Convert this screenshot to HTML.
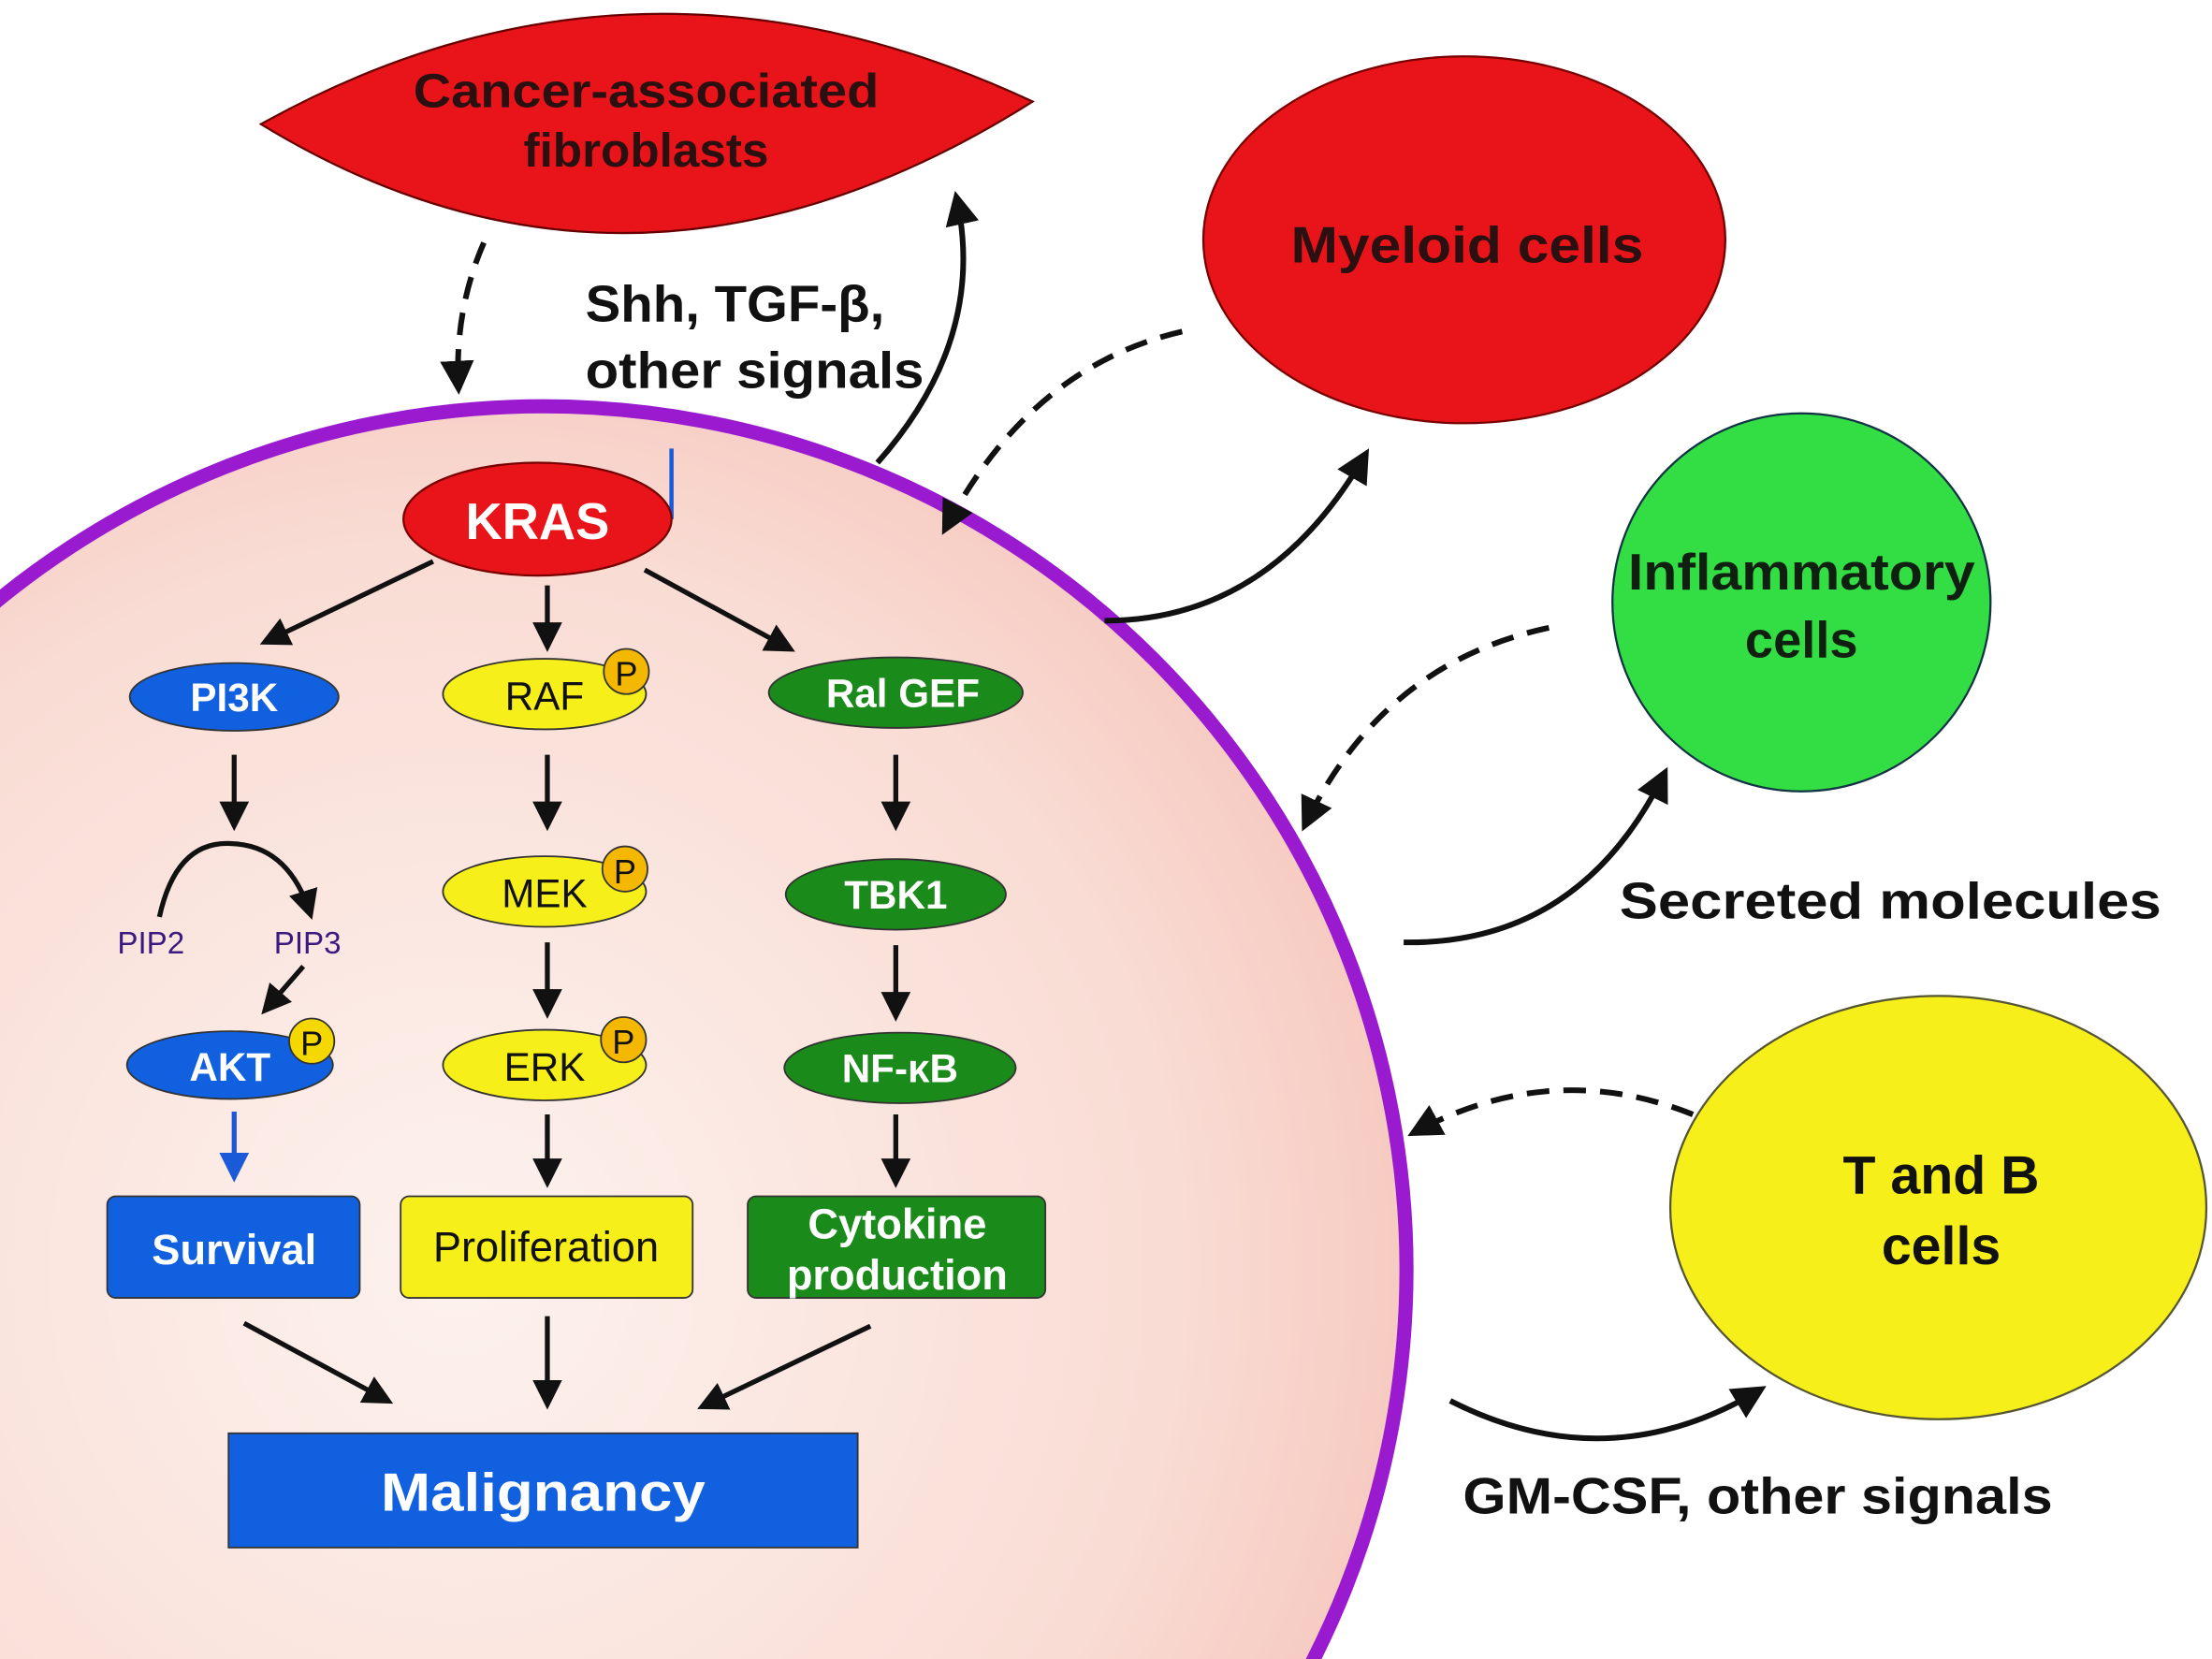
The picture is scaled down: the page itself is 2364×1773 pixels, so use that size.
<!DOCTYPE html>
<html><head><meta charset="utf-8"><style>html,body{margin:0;padding:0;background:#fff;width:2364px;height:1773px;overflow:hidden}svg{display:block}</style></head>
<body>
<svg width="2364" height="1773" viewBox="0 0 1568 1176" xmlns="http://www.w3.org/2000/svg" font-family="Liberation Sans, DejaVu Sans, sans-serif" font-weight="bold">
<defs>
<radialGradient id="cg" cx="0.45" cy="0.5" r="0.6">
<stop offset="0" stop-color="#fdf2ee"/><stop offset="0.7" stop-color="#f9dcd4"/><stop offset="1" stop-color="#f5c4ba"/>
</radialGradient>
<marker id="ah" viewBox="0 0 10 10" refX="8" refY="5" markerWidth="6" markerHeight="6" orient="auto"><path d="M0,0 L10,5 L0,10 z" fill="#111"/></marker>
<marker id="ahb" viewBox="0 0 10 10" refX="8" refY="5" markerWidth="6" markerHeight="6" orient="auto"><path d="M0,0 L10,5 L0,10 z" fill="#1a5ad8"/></marker>
</defs>
<rect width="1568" height="1176" fill="#fff"/>
<ellipse cx="385" cy="900" rx="612" ry="612" fill="url(#cg)" stroke="#9a1ad0" stroke-width="10"/>
<path d="M185,88 Q450,-60 732,72 Q450,250 185,88 z" fill="#e8141a" stroke="#600" stroke-width="1.5"/>
<g font-size="34" fill="#2a1010" text-anchor="middle">
<text x="458" y="76" textLength="330" lengthAdjust="spacingAndGlyphs">Cancer-associated</text><text x="458" y="118">fibroblasts</text>
</g>
<ellipse cx="1038" cy="170" rx="185" ry="130" fill="#e8141a" stroke="#700" stroke-width="1.5"/>
<text x="1040" y="186" font-size="36" fill="#2a1010" text-anchor="middle" textLength="250" lengthAdjust="spacingAndGlyphs">Myeloid cells</text>
<circle cx="1277" cy="427" r="134" fill="#33dd44" stroke="#134" stroke-width="1.5"/>
<g font-size="36" fill="#102010" text-anchor="middle"><text x="1277" y="418" textLength="246" lengthAdjust="spacingAndGlyphs">Inflammatory</text><text x="1277" y="466">cells</text></g>
<ellipse cx="1374" cy="856" rx="190" ry="150" fill="#f6ef1a" stroke="#553" stroke-width="1.5"/>
<g font-size="38" fill="#111" text-anchor="middle"><text x="1376" y="846">T and B</text><text x="1376" y="896">cells</text></g>
<g font-size="36" fill="#111">
<text x="415" y="228" textLength="212" lengthAdjust="spacingAndGlyphs">Shh, TGF-β,</text><text x="415" y="275" textLength="240" lengthAdjust="spacingAndGlyphs">other signals</text>
<text x="1148" y="651" textLength="384" lengthAdjust="spacingAndGlyphs">Secreted molecules</text>
<text x="1037" y="1073" textLength="418" lengthAdjust="spacingAndGlyphs">GM-CSF, other signals</text>
</g>
<g fill="none" stroke="#111" stroke-width="4">
<path d="M343,172 Q322,220 325,275" stroke-dasharray="16,10" marker-end="url(#ah)"/>
<path d="M622,328 Q700,240 678,140" marker-end="url(#ah)"/>
<path d="M838,235 Q730,260 670,375" stroke-dasharray="16,10" marker-end="url(#ah)"/>
<path d="M783,440 Q900,440 968,322" marker-end="url(#ah)"/>
<path d="M1098,445 Q980,470 925,585" stroke-dasharray="16,10" marker-end="url(#ah)"/>
<path d="M995,668 Q1120,670 1180,548" marker-end="url(#ah)"/>
<path d="M1200,790 Q1100,750 1002,803" stroke-dasharray="16,10" marker-end="url(#ah)"/>
<path d="M1028,993 Q1140,1050 1248,985" marker-end="url(#ah)"/>
</g>
<line x1="476" y1="318" x2="476" y2="368" stroke="#1a5ad8" stroke-width="3"/>
<g fill="none" stroke="#111" stroke-width="3.5" marker-end="url(#ah)">
<line x1="307" y1="398" x2="188" y2="455"/>
<line x1="388" y1="415" x2="388" y2="458"/>
<line x1="457" y1="404" x2="560" y2="460"/>
<line x1="166" y1="535" x2="166" y2="585"/>
<line x1="388" y1="535" x2="388" y2="585"/>
<line x1="635" y1="535" x2="635" y2="585"/>
<line x1="388" y1="668" x2="388" y2="718"/>
<line x1="635" y1="670" x2="635" y2="720"/>
<path d="M113,650 Q125,595 165,598 Q205,600 220,648"/>
<line x1="215" y1="685" x2="188" y2="716"/>
<line x1="388" y1="790" x2="388" y2="838"/>
<line x1="635" y1="790" x2="635" y2="838"/>
<line x1="173" y1="938" x2="275" y2="993"/>
<line x1="388" y1="933" x2="388" y2="995"/>
<line x1="617" y1="940" x2="498" y2="997"/>
</g>
<line x1="166" y1="788" x2="166" y2="834" stroke="#1a5ad8" stroke-width="3.5" marker-end="url(#ahb)"/>
<ellipse cx="381" cy="368" rx="95" ry="40" fill="#e8141a" stroke="#700" stroke-width="1.5"/>
<text x="381" y="382" font-size="36" fill="#fff" text-anchor="middle">KRAS</text>
<g stroke="#333" stroke-width="1.2">
<ellipse cx="166" cy="494" rx="74" ry="24" fill="#1060e0"/>
<ellipse cx="386" cy="492" rx="72" ry="25" fill="#f6ef1a"/>
<ellipse cx="635" cy="491" rx="90" ry="25" fill="#1a8a1a"/>
<ellipse cx="386" cy="632" rx="72" ry="25" fill="#f6ef1a"/>
<ellipse cx="635" cy="634" rx="78" ry="25" fill="#1a8a1a"/>
<ellipse cx="163" cy="755" rx="73" ry="24" fill="#1060e0"/>
<ellipse cx="386" cy="755" rx="72" ry="25" fill="#f6ef1a"/>
<ellipse cx="638" cy="757" rx="82" ry="25" fill="#1a8a1a"/>
<circle cx="444" cy="476" r="16" fill="#f5b800"/>
<circle cx="443" cy="616" r="16" fill="#f5b800"/>
<circle cx="221" cy="738" r="16" fill="#f5d800"/>
<circle cx="442" cy="737" r="16" fill="#f5b800"/>
<rect x="76" y="848" width="179" height="72" rx="6" fill="#1060e0"/>
<rect x="284" y="848" width="207" height="72" rx="6" fill="#f6ef1a"/>
<rect x="530" y="848" width="211" height="72" rx="6" fill="#1a8a1a"/>
<rect x="162" y="1016" width="446" height="81" fill="#1060e0"/>
</g>
<g font-size="28" text-anchor="middle" font-weight="normal">
<text x="166" y="504" fill="#fff" font-weight="bold">PI3K</text>
<text x="386" y="503" fill="#111">RAF</text>
<text x="640" y="501" fill="#fff" font-weight="bold">Ral GEF</text>
<text x="386" y="643" fill="#111">MEK</text>
<text x="635" y="644" fill="#fff" font-weight="bold">TBK1</text>
<text x="163" y="766" fill="#fff" font-weight="bold">AKT</text>
<text x="386" y="766" fill="#111">ERK</text>
<text x="638" y="767" fill="#fff" font-weight="bold">NF-κB</text>
<text x="444" y="486" fill="#111" font-size="24">P</text>
<text x="443" y="626" fill="#111" font-size="24">P</text>
<text x="221" y="748" fill="#111" font-size="24">P</text>
<text x="442" y="747" fill="#111" font-size="24">P</text>
<text x="107" y="676" fill="#3a1a80" font-size="22">PIP2</text>
<text x="218" y="676" fill="#3a1a80" font-size="22">PIP3</text>
<text x="166" y="896" fill="#fff" font-weight="bold" font-size="30">Survival</text>
<text x="387" y="894" fill="#111" font-size="30">Proliferation</text>
<text x="636" y="878" fill="#fff" font-weight="bold" font-size="30">Cytokine</text>
<text x="636" y="914" fill="#fff" font-weight="bold" font-size="30">production</text>
<text x="385" y="1071" fill="#fff" font-weight="bold" font-size="38" textLength="230" lengthAdjust="spacingAndGlyphs">Malignancy</text>
</g>
</svg>
</body></html>
